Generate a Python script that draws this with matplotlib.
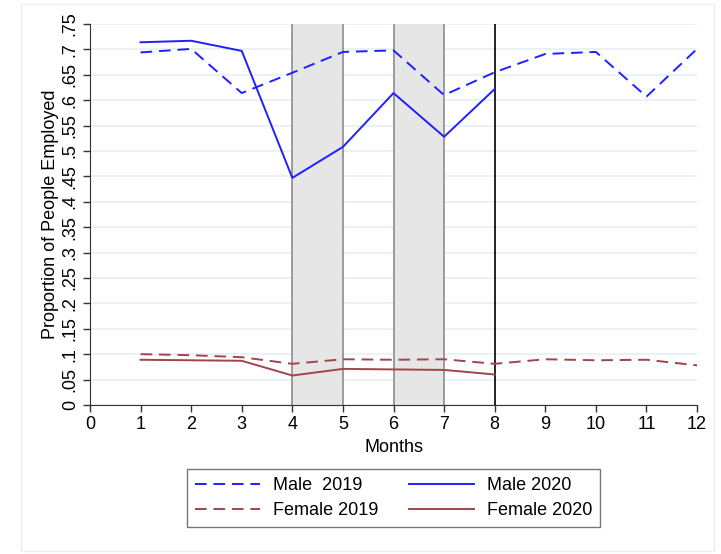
import matplotlib
matplotlib.use('Agg')
import matplotlib.pyplot as plt
from matplotlib.patches import Rectangle

# dados
months = [1, 2, 3, 4, 5, 6, 7, 8, 9, 10, 11, 12]
male_2019 = [0.694, 0.701, 0.614, 0.654, 0.695, 0.698, 0.610, 0.655, 0.691, 0.695, 0.607, 0.701]
female_2019 = [0.100, 0.098, 0.094, 0.081, 0.090, 0.089, 0.090, 0.081, 0.090, 0.088, 0.089, 0.078]
months_2020 = [1, 2, 3, 4, 5, 6, 7, 8]
male_2020 = [0.714, 0.717, 0.697, 0.447, 0.508, 0.614, 0.528, 0.622]
female_2020 = [0.089, 0.088, 0.087, 0.058, 0.071, 0.070, 0.069, 0.060]

shaded = [(4, 5), (6, 7)]
cutoff = 8
yticks = [i * 0.05 for i in range(16)]
ytick_labels = ['0', '.05', '.1', '.15', '.2', '.25', '.3', '.35', '.4', '.45',
                '.5', '.55', '.6', '.65', '.7', '.75']

plt.rcParams['font.family'] = ['Liberation Sans', 'DejaVu Sans']

blue = '#1f1fff'
maroon = '#a0444e'
dashed = (0, (6, 3.5))

fig = plt.figure(figsize=(7.21, 5.54), dpi=100)
# moldura clara em volta do grafico
fig.patches.append(Rectangle((0.029, 0.005), 0.961, 0.987, transform=fig.transFigure,
                             fill=False, edgecolor='#eeeeee', linewidth=1))
ax = fig.add_axes([0.1248, 0.269, 0.842, 0.6877])

for y in yticks:
    ax.axhline(y, color='#e8f0f2', linewidth=1.2, zorder=0)

for a, b in shaded:
    ax.axvspan(a, b, color='#e6e6e6', zorder=1, linewidth=0)
    ax.axvline(a, color='#8c8c8c', linewidth=1.2, zorder=2)
    ax.axvline(b, color='#8c8c8c', linewidth=1.2, zorder=2)
ax.axvline(cutoff, color='black', linewidth=1.2, zorder=2)

l1, = ax.plot(months, male_2019, color=blue, linestyle=dashed, linewidth=1.4, zorder=3)
l2, = ax.plot(months_2020, male_2020, color=blue, linewidth=1.4, zorder=3)
l3, = ax.plot(months, female_2019, color=maroon, linestyle=dashed, linewidth=1.4, zorder=3)
l4, = ax.plot(months_2020, female_2020, color=maroon, linewidth=1.4, zorder=3)

ax.set_xlim(0, 12)
ax.set_ylim(0, 0.75)
ax.set_xticks(range(13))
ax.set_yticks(yticks)
ax.set_yticklabels(ytick_labels, rotation=90, va='center')
ax.tick_params(axis='both', labelsize=13, length=5, width=1, color='#333333', pad=3)
ax.set_xlabel('Months', fontsize=13, labelpad=4)
ax.set_ylabel('Proportion of People Employed', fontsize=13, labelpad=2)

for s in ['top', 'right']:
    ax.spines[s].set_visible(False)
ax.spines['left'].set_color('#333333')
ax.spines['bottom'].set_color('#333333')

# ordem em colunas: Male 2019 / Female 2019 | Male 2020 / Female 2020
leg = fig.legend([l1, l3, l2, l4], ['Male  2019', 'Female 2019', 'Male 2020', 'Female 2020'],
                 ncol=2, loc='center', bbox_to_anchor=(0.546, 0.101), fontsize=13,
                 handlelength=3.6, columnspacing=1.7, fancybox=False, edgecolor='#555555',
                 borderpad=0.45, labelspacing=0.45, handletextpad=0.7)
leg.get_frame().set_linewidth(1)

fig.savefig('out.png', dpi=100)
